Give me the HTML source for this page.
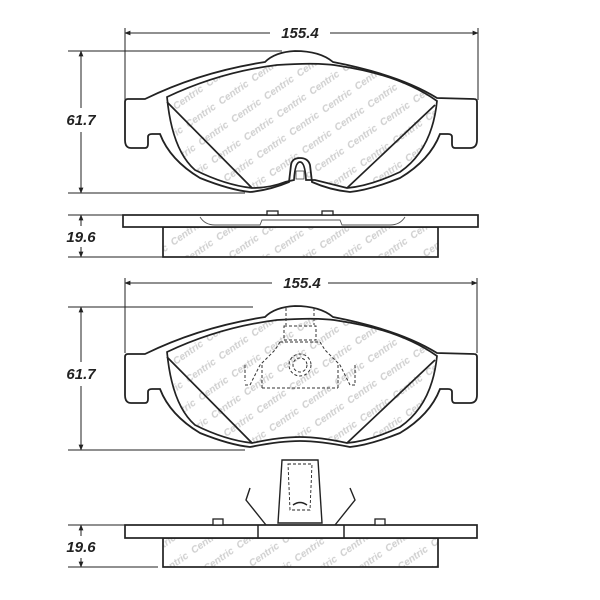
<!DOCTYPE html>
<html><head><meta charset="utf-8"><style>
html,body{margin:0;padding:0;background:#fff;}
svg{display:block;}
text{font-family:"Liberation Sans",sans-serif;}
</style></head><body>
<svg width="600" height="600" viewBox="0 0 600 600" xmlns="http://www.w3.org/2000/svg">
<defs>
<marker id="a" viewBox="0 0 10 10" refX="9" refY="5" markerWidth="6" markerHeight="6" orient="auto-start-reverse"><path d="M0,1 L10,5 L0,9 Z" fill="#222"/></marker>
<pattern id="wm" width="40" height="22" patternUnits="userSpaceOnUse" patternTransform="rotate(-35)">
<text x="1" y="15" font-size="10" font-style="italic" font-weight="bold" fill="#cfcfcf">Centric</text>
</pattern>
</defs>
<g fill="none" stroke="#222" stroke-width="1">
<line x1="125" y1="33" x2="270" y2="33" marker-start="url(#a)"/>
<line x1="330" y1="33" x2="478" y2="33" marker-end="url(#a)"/>
<line x1="125" y1="28" x2="125" y2="100"/><line x1="478" y1="28" x2="478" y2="100"/>
<line x1="81" y1="51" x2="81" y2="108" marker-start="url(#a)"/>
<line x1="81" y1="132" x2="81" y2="193" marker-end="url(#a)"/>
<line x1="68" y1="51" x2="282" y2="51"/><line x1="68" y1="193" x2="245" y2="193"/>
<line x1="81" y1="215" x2="81" y2="226" marker-start="url(#a)"/>
<line x1="81" y1="247" x2="81" y2="257" marker-end="url(#a)"/>
<line x1="68" y1="215" x2="123" y2="215"/><line x1="68" y1="257" x2="163" y2="257"/>
</g>
<g>
<path d="M167,97 Q220,72 277,65 Q320,62 340,66 Q400,75 437,101 Q432,150 400,172 Q370,186 347,188 L315,180 L306,180 Q305,162 300,162 Q295,162 294,180 L285,182 Q270,188 252,188 Q225,185 195,170 Q172,150 167,97 Z" fill="url(#wm)" stroke="#222" stroke-width="1.7"/>
<path d="M145,99 Q200,72 265,62 Q275,52 295,51 Q320,51 333,62 Q400,75 437,98 L474,99 Q477,99 477,102 L477,140 Q477,148 470,148 L455,148 Q452,148 452,144 L452,137 Q452,134 448,134 L440,134 Q430,160 400,178 Q370,190 350,192 Q330,190 312,182 L310,165 Q308,158 300,158 Q292,158 291,165 L289,182 Q270,190 250,192 Q230,190 200,178 Q170,160 160,134 L152,134 Q148,134 148,137 L148,144 Q148,148 145,148 L131,148 Q125,148 125,140 L125,102 Q125,99 128,99 Z" fill="none" stroke="#222" stroke-width="1.8"/>
<line x1="167" y1="102" x2="252" y2="188" stroke="#222" stroke-width="1.7"/>
<line x1="435" y1="105" x2="347" y2="188" stroke="#222" stroke-width="1.7"/>
<rect x="296" y="171" width="8" height="8" fill="none" stroke="#444" stroke-width="0.8"/>
<rect x="163" y="227" width="275" height="30" fill="url(#wm)" stroke="#222" stroke-width="1.7"/>
<rect x="123" y="215" width="355" height="12" fill="#fff" stroke="#222" stroke-width="1.7"/>
<path d="M200,217 Q205,225 215,225 L260,225 L262,220 L340,220 L342,225 L390,225 Q400,225 405,217" fill="none" stroke="#555" stroke-width="0.9"/>
<rect x="267" y="211" width="11" height="4" fill="#fff" stroke="#222" stroke-width="1.3"/>
<rect x="322" y="211" width="11" height="4" fill="#fff" stroke="#222" stroke-width="1.3"/>
</g>
<g fill="none" stroke="#222" stroke-width="1">
<line x1="125" y1="283" x2="272" y2="283" marker-start="url(#a)"/>
<line x1="328" y1="283" x2="477" y2="283" marker-end="url(#a)"/>
<line x1="125" y1="278" x2="125" y2="353"/><line x1="477" y1="278" x2="477" y2="353"/>
<line x1="81" y1="307" x2="81" y2="362" marker-start="url(#a)"/>
<line x1="81" y1="386" x2="81" y2="450" marker-end="url(#a)"/>
<line x1="68" y1="307" x2="253" y2="307"/><line x1="68" y1="450" x2="245" y2="450"/>
<line x1="81" y1="525" x2="81" y2="536" marker-start="url(#a)"/>
<line x1="81" y1="558" x2="81" y2="567" marker-end="url(#a)"/>
<line x1="68" y1="525" x2="125" y2="525"/><line x1="68" y1="567" x2="158" y2="567"/>
</g>
<g transform="translate(0,255)">
<path d="M167,97 Q220,72 277,65 Q320,62 340,66 Q400,75 437,101 Q432,150 400,172 Q370,186 347,188 Q320,182 300,182 Q280,182 252,188 Q225,185 195,170 Q172,150 167,97 Z" fill="url(#wm)" stroke="#222" stroke-width="1.7"/>
<path d="M145,99 Q200,72 265,62 Q275,52 295,51 Q320,51 333,62 Q400,75 437,98 L474,99 Q477,99 477,102 L477,140 Q477,148 470,148 L455,148 Q452,148 452,144 L452,137 Q452,134 448,134 L440,134 Q430,160 400,178 Q370,190 350,192 Q320,186 300,186 Q280,186 250,192 Q230,190 200,178 Q170,160 160,134 L152,134 Q148,134 148,137 L148,144 Q148,148 145,148 L131,148 Q125,148 125,140 L125,102 Q125,99 128,99 Z" fill="none" stroke="#222" stroke-width="1.8"/>
<line x1="167" y1="102" x2="252" y2="188" stroke="#222" stroke-width="1.7"/>
<line x1="435" y1="105" x2="347" y2="188" stroke="#222" stroke-width="1.7"/>
</g>
<g fill="none" stroke="#333" stroke-width="1" stroke-dasharray="3,2">
<path d="M286,308 L286,325 M314,308 L314,325 M284,326 L316,326 L316,340 L284,340 Z"/>
<path d="M280,342 L320,342 L325,350 L340,365 L350,385 L355,385 L355,380 M280,342 L275,350 L260,365 L250,385 L245,385"/>
<path d="M245,365 L245,381 M355,365 L355,381 M262,365 L262,388 M338,365 L338,388 M262,388 L338,388"/>
<circle cx="300" cy="365" r="11"/><circle cx="300" cy="365" r="7"/>
</g>
<g fill="#fff" stroke="#222" stroke-width="1.4">
<path d="M282,460 L318,460 L322,523 L278,523 Z"/>
<path d="M288,464 L312,464 L310,510 L290,510 Z" fill="none" stroke-dasharray="3,2" stroke-width="0.9"/>
<path d="M293,505 Q300,500 307,505" fill="none"/>
<path d="M250,488 L246,500 L266,525" fill="none"/>
<path d="M350,488 L355,500 L335,525" fill="none"/>
</g>
<g>
<rect x="163" y="538" width="275" height="29" fill="url(#wm)" stroke="#222" stroke-width="1.7"/>
<rect x="125" y="525" width="352" height="13" fill="#fff" stroke="#222" stroke-width="1.7"/>
<line x1="258" y1="525" x2="258" y2="538" stroke="#222" stroke-width="1.5"/>
<line x1="344" y1="525" x2="344" y2="538" stroke="#222" stroke-width="1.5"/>
<rect x="213" y="519" width="10" height="6" fill="#fff" stroke="#222" stroke-width="1.3"/>
<rect x="375" y="519" width="10" height="6" fill="#fff" stroke="#222" stroke-width="1.3"/>
</g>
<g font-size="15" font-weight="bold" font-style="italic" fill="#222" text-anchor="middle">
<text x="300" y="38">155.4</text>
<text x="81" y="125">61.7</text>
<text x="81" y="242">19.6</text>
<text x="302" y="288">155.4</text>
<text x="81" y="379">61.7</text>
<text x="81" y="552">19.6</text>
</g>
</svg>
</body></html>
